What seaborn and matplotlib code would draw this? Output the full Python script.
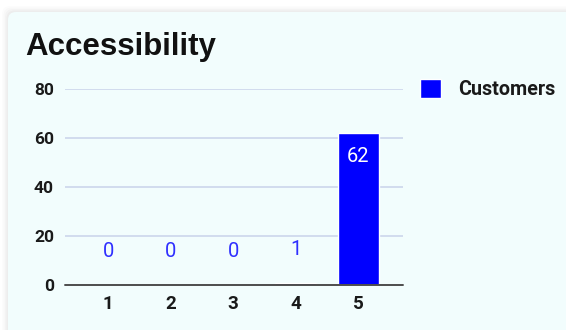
import matplotlib
matplotlib.use("Agg")
import matplotlib.pyplot as plt
from matplotlib.patches import FancyBboxPatch
import seaborn as sns
import pandas as pd

categories = ["1", "2", "3", "4", "5"]
customers = [0, 0, 0, 1, 62]
y_ticks = [0, 20, 40, 60, 80]

BLUE = "#0000ff"
CARD = "#f2fdfd"

sns.set_theme(style="white")
plt.rcParams["font.family"] = ["Roboto", "DejaVu Sans"]

df = pd.DataFrame({"rating": categories, "Customers": customers})

fig = plt.figure(figsize=(5.66, 3.30), dpi=100)
fig.patch.set_facecolor("white")

# card with soft shadow
for i, a in enumerate([0.025, 0.02, 0.015, 0.01]):
    d = (i + 1) * 1.5
    fig.patches.append(FancyBboxPatch((8 - d, -20), 620, 330 - 12 + d + 20,
                                      boxstyle="round,pad=0,rounding_size=8",
                                      transform=None, facecolor="black",
                                      edgecolor="none", alpha=a, zorder=0))
fig.patches.append(FancyBboxPatch((8, -20), 620, 330 - 12 + 20,
                                  boxstyle="round,pad=0,rounding_size=8",
                                  transform=None, facecolor=CARD,
                                  edgecolor="none", zorder=1))

ax = fig.add_axes([65 / 566, 1 - 285 / 330, (403 - 65) / 566, (285 - 89) / 330])
ax.set_facecolor("none")
ax.set_zorder(2)

sns.barplot(data=df, x="rating", y="Customers", color=BLUE, saturation=1,
            width=0.656, ax=ax, zorder=3, label="Customers")

ax.set_xlim(-0.69, 4.72)
ax.set_ylim(0, 80)
ax.set_yticks(y_ticks)
ax.set_yticklabels([str(t) for t in y_ticks], fontsize=12.5, fontweight="bold",
                   color="#1a1a1a")
ax.set_xticks(range(len(categories)))
ax.set_xticklabels(categories, fontsize=13.5, fontweight="bold", color="#1a1a1a")
ax.tick_params(axis="y", length=0, pad=8)
ax.tick_params(axis="x", length=0, pad=7)
ax.set_xlabel("")
ax.set_ylabel("")
for t in y_ticks[1:]:
    ax.axhline(t, color="#c9d3ea", lw=1.1, zorder=1)
ax.axhline(0, color="#4d4d4d", lw=1.4, zorder=4, clip_on=False)
for s in ax.spines.values():
    s.set_visible(False)

for i, v in enumerate(customers):
    if v > 20:
        ax.annotate(str(v), (i, v), xytext=(0, -17), textcoords="offset points",
                    ha="center", va="center", color="white", fontsize=14.5)
    else:
        ax.annotate(str(v), (i, v), xytext=(0, 24), textcoords="offset points",
                    ha="center", va="center", color="#2f2fff", fontsize=14.5)

leg = ax.legend(loc="center left", bbox_to_anchor=(1.0, 1.0), frameon=False,
                handlelength=1.1, handleheight=1.1, handletextpad=0.85,
                borderaxespad=0.45, prop={"weight": "bold", "size": 14.2})
for txt in leg.get_texts():
    txt.set_color("#1a1a1a")

fig.text(25 / 566, 1 - 47 / 330, "Accessibility",
         family=["Liberation Sans", "DejaVu Sans"], fontsize=22.5,
         fontweight="bold", color="#111111", va="center", ha="left", zorder=5)

fig.savefig("out.png", dpi=100)
